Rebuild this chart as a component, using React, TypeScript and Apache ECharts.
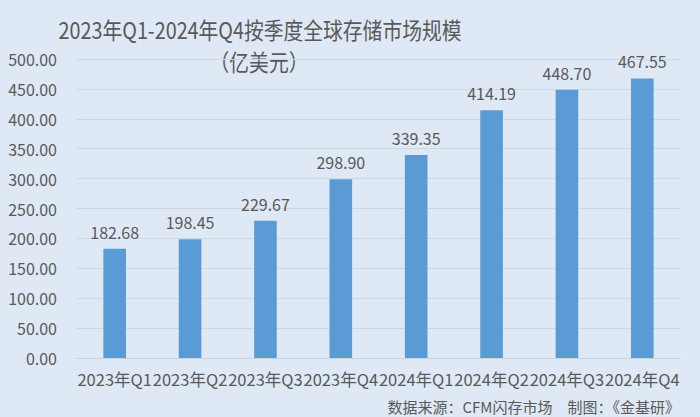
import React, { useEffect, useRef } from "react";
import * as echarts from "echarts";

const categories = ["2023年Q1", "2023年Q2", "2023年Q3", "2023年Q4", "2024年Q1", "2024年Q2", "2024年Q3", "2024年Q4"];
const values = [182.68, 198.45, 229.67, 298.9, 339.35, 414.19, 448.7, 467.55];
const titleLine1 = "2023年Q1-2024年Q4按季度全球存储市场规模";
const titleLine2 = "（亿美元）";
const footer = "数据来源：CFM闪存市场　制图：《金基研》";

const FONT = "'Noto Sans CJK SC', 'Noto Sans', sans-serif";
const TXT = "#595959";

export default function App() {
  const ref = useRef<HTMLDivElement>(null);
  useEffect(() => {
    if (!ref.current) return;
    const chart = echarts.init(ref.current, undefined, { renderer: "svg" });
    chart.setOption({
      animation: false,
      backgroundColor: "#dfe9f5",
      textStyle: { fontFamily: FONT },
      graphic: [
        { type: "text", x: 260, y: 29, scaleX: 0.86, style: { text: titleLine1, fontSize: 23, fontFamily: FONT, fill: TXT, align: "center", verticalAlign: "middle" } },
        { type: "text", x: 259, y: 61, scaleX: 0.86, style: { text: titleLine2, fontSize: 23, fontFamily: FONT, fill: TXT, align: "center", verticalAlign: "middle" } },
        { type: "text", x: 680, y: 406, style: { text: footer, fontSize: 15, fontFamily: FONT, fill: TXT, align: "right", verticalAlign: "middle" } },
      ],
      grid: { left: 77, right: 20, top: 59, bottom: 59 },
      xAxis: {
        type: "category",
        data: categories,
        axisTick: { show: false },
        axisLine: { lineStyle: { color: "#c8d3df" } },
        axisLabel: { color: TXT, fontSize: 16.5, margin: 13, interval: 0, fontFamily: FONT },
      },
      yAxis: {
        type: "value",
        min: 0,
        max: 500,
        interval: 50,
        axisLine: { show: false },
        axisTick: { show: false },
        splitLine: { lineStyle: { color: "#cdd8e5" } },
        axisLabel: { color: TXT, fontSize: 16, margin: 20, fontFamily: FONT, formatter: (v: number) => v.toFixed(2) },
      },
      series: [
        {
          type: "bar",
          data: values,
          barWidth: "30%",
          itemStyle: { color: "#5b9bd5" },
          label: {
            show: true,
            position: "top",
            distance: 9,
            color: TXT,
            fontSize: 16,
            fontFamily: FONT,
            formatter: (p: any) => p.value.toFixed(2),
          },
        },
      ],
    });
    return () => chart.dispose();
  }, []);
  return <div ref={ref} style={{ width: 700, height: 417, position: "fixed", left: 0, top: 0 }} />;
}
